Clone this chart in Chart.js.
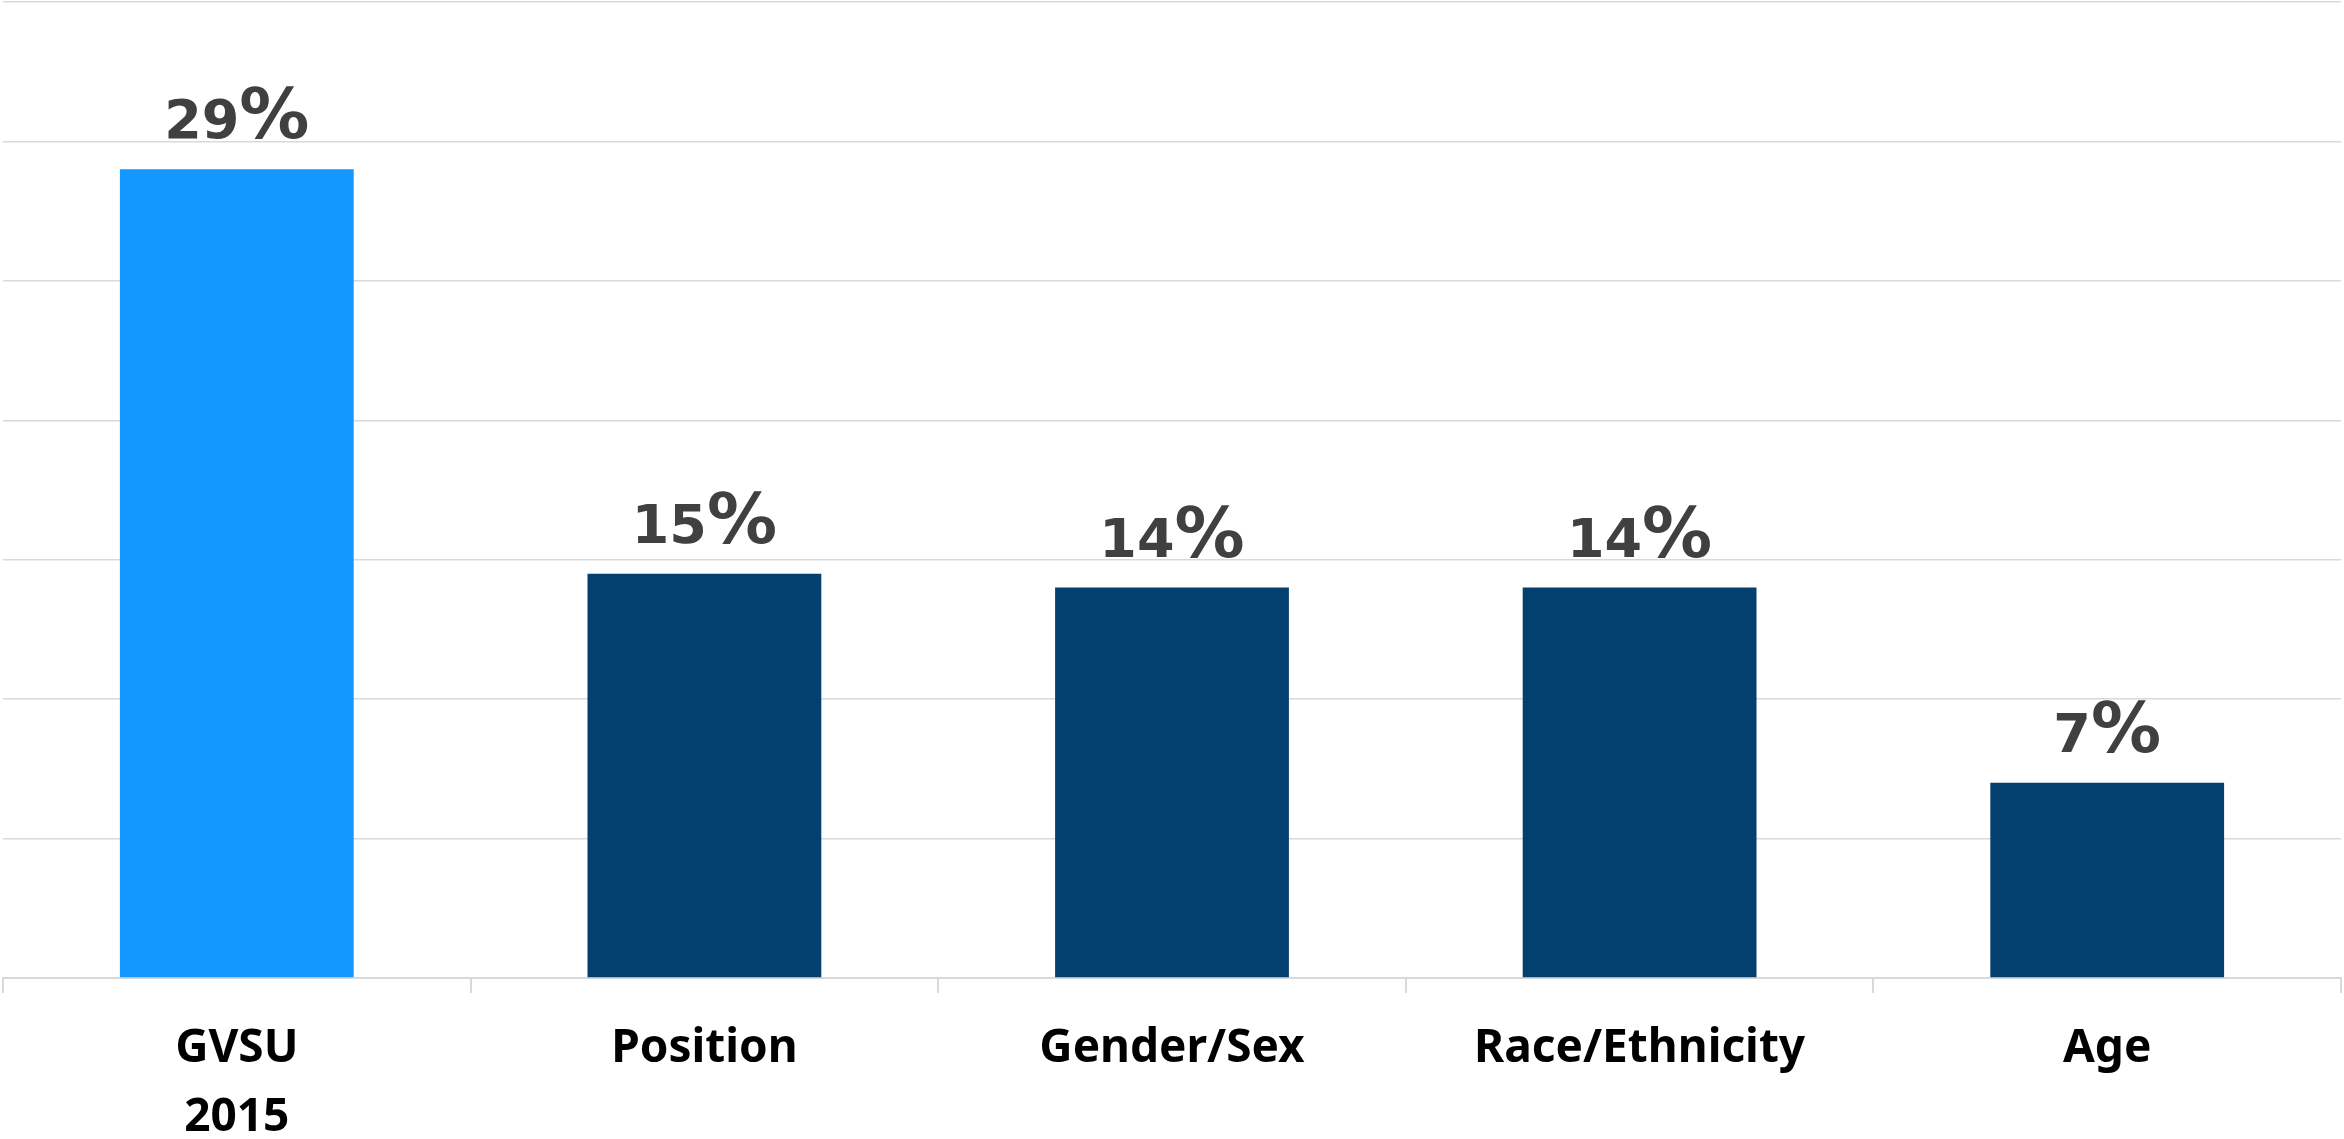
<!DOCTYPE html>
<html>
<head>
<meta charset="utf-8">
<script src="https://cdn.jsdelivr.net/npm/chart.js@4.4.1/dist/chart.umd.min.js"></script>
<style>
  html, body { margin: 0; padding: 0; background: #fff; overflow: hidden; }
  #wrap { width: 2344px; height: 1139px; overflow: hidden; }
</style>
</head>
<body>
<div id="wrap"><canvas id="bar-chart" width="2344" height="1173"></canvas></div>
<script>
const cats = [['GVSU', '2015'], 'Position', 'Gender/Sex', 'Race/Ethnicity', 'Age'];
const shares = [29, 14.5, 14, 14, 7];
const barColors = ['#1497fe', '#03406f', '#03406f', '#03406f', '#03406f'];
const yTicks = [0, 5, 10, 15, 20, 25, 30, 35];

// value labels above each bar: digits plus a taller percent sign on the same baseline
const valueLabels = {
    id: 'valueLabels',
    afterDatasetsDraw(chart) {
        const ctx = chart.ctx;
        const meta = chart.getDatasetMeta(0);
        const numFont = 'bold 54px "DejaVu Sans"';
        const pctFont = 'bold 70px "DejaVu Sans"';
        ctx.save();
        ctx.fillStyle = '#404040';
        ctx.textAlign = 'left';
        ctx.textBaseline = 'alphabetic';
        meta.data.forEach((bar, i) => {
            let num = String(Math.round(shares[i]));
            ctx.font = numFont;
            let wNum = ctx.measureText(num).width;
            ctx.font = pctFont;
            let wPct = ctx.measureText('%').width;
            let x0 = bar.x - (wNum + wPct) / 2;
            let y = bar.y - 31;
            ctx.font = numFont;
            ctx.fillText(num, x0, y);
            ctx.font = pctFont;
            ctx.fillText('%', x0 + wNum, y);
        });
        ctx.restore();
    }
};

var canvas = document.getElementById('bar-chart');
new Chart(canvas, {
    type: 'bar',
    data: {
        labels: cats,
        datasets: [{
            data: shares,
            backgroundColor: barColors,
            categoryPercentage: 1,
            barPercentage: 0.5
        }]
    },
    options: {
        responsive: false,
        animation: false,
        layout: { padding: { left: 3, right: 3, top: 2, bottom: 0 } },
        plugins: {
            legend: { display: false },
            tooltip: { enabled: false }
        },
        scales: {
            x: {
                grid: {
                    drawOnChartArea: false,
                    drawTicks: true,
                    tickLength: 15,
                    color: '#d9d9d9',
                    lineWidth: 2
                },
                border: { color: '#d9d9d9', width: 2 },
                ticks: {
                    color: '#000',
                    padding: 21,
                    maxRotation: 0,
                    font: { family: '"Noto Sans"', size: 46, weight: 'bold', lineHeight: 1.5 }
                }
            },
            y: {
                min: yTicks[0],
                max: yTicks[yTicks.length - 1],
                afterBuildTicks: axis => { axis.ticks = yTicks.map(v => ({ value: v })); },
                border: { display: false },
                grid: { color: '#d9d9d9', lineWidth: 1.5, drawTicks: false },
                ticks: { display: false }
            }
        }
    },
    plugins: [valueLabels]
});
</script>
</body>
</html>
